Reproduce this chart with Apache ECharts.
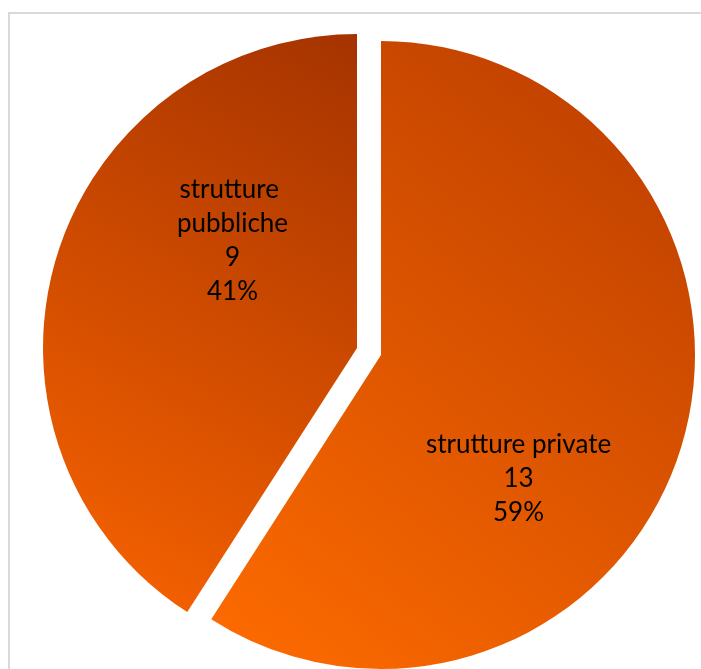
<!DOCTYPE html>
<html>
<head>
<meta charset="utf-8">
<script src="https://cdn.jsdelivr.net/npm/echarts@6/dist/echarts.min.js"></script>
<style>
  html, body { margin: 0; padding: 0; background: #ffffff; }
  #chart { width: 701px; height: 669px; }
</style>
</head>
<body>
<div id="chart"></div>
<script>
// Distribution of facilities by type
const categories = ['strutture private', 'strutture pubbliche'];
const values = [13, 9];
// per-slice gradient: dark (top-right) to bright (bottom-left)
const gradientDark = ['#b83c00', '#a53300'];
const gradientBright = ['#ff6c00', '#fa6400'];
const explodedSlice = [false, true];

const chart = echarts.init(document.getElementById('chart'), null, { renderer: 'canvas' });

const data = categories.map((name, i) => ({
  name: name,
  value: values[i],
  selected: explodedSlice[i],
  itemStyle: {
    color: {
      type: 'linear', x: 1, y: 0, x2: 0, y2: 1,
      colorStops: [
        { offset: 0, color: gradientDark[i] },
        { offset: 1, color: gradientBright[i] }
      ]
    }
  },
  label: i === 1 ? { width: 140, overflow: 'break' } : {}
}));

// label offsets from the default inside position
const labelShift = [[-16, 79], [29, -62]];

chart.setOption({
  animation: false,
  graphic: [{
    type: 'rect',
    shape: { x: 9, y: 13, width: 760, height: 720 },
    style: { fill: 'none', stroke: '#d9d9d9', lineWidth: 2 },
    silent: true,
    z: -1
  }],
  series: [{
    type: 'pie',
    center: [381, 355],
    radius: 314,
    startAngle: 90,
    clockwise: true,
    selectedMode: 'single',
    selectedOffset: 25,
    percentPrecision: 0,
    emphasis: { disabled: true },
    itemStyle: { borderWidth: 0 },
    label: {
      show: true,
      position: 'inside',
      formatter: '{b}\n{c}\n{d}%',
      color: '#000000',
      fontFamily: 'Lato',
      fontSize: 26,
      lineHeight: 34,
      align: 'center'
    },
    labelLine: { show: false },
    labelLayout: function (params) {
      const s = labelShift[params.dataIndex];
      return { dx: s[0], dy: s[1] };
    },
    data: data
  }]
});
</script>
</body>
</html>
